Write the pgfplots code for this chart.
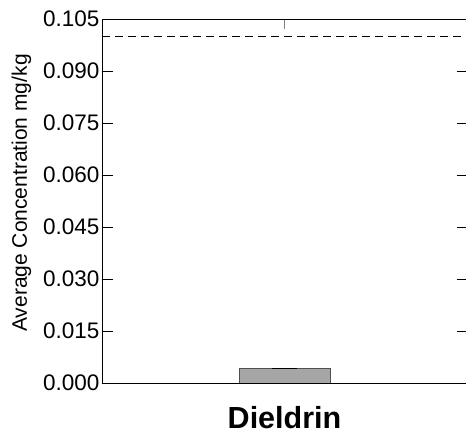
\documentclass[border=0pt]{standalone}
\usepackage{fontspec}
\setmainfont{Liberation Sans}
\usepackage{pgfplots}
\pgfplotsset{compat=1.18}
\begin{document}
\begin{tikzpicture}
\begin{axis}[
  name=ax,
  scale only axis,
  width=365pt, height=364pt,
  xmin=-1, xmax=1,
  ymin=0, ymax=0.105,
  ytick={0,0.015,0.03,0.045,0.06,0.075,0.09,0.105},
  /pgf/number format/fixed,
  /pgf/number format/fixed zerofill,
  /pgf/number format/precision=3,
  /pgf/number format/assume math mode=true,
  yticklabel style={font=\fontsize{22.5}{26}\selectfont, xshift=1pt},
  scaled y ticks=false,
  xtick={0},
  xticklabels={\textbf{Dieldrin}},
  xticklabel style={font=\fontsize{30.5}{34}\selectfont, yshift=-20pt},
  tick align=inside,
  major tick length=10.5pt,
  x tick style={gray, line width=1pt},
  y tick style={black, line width=0.9pt},
  axis line style={line width=0.9pt},
  ylabel={Average Concentration mg/kg},
  ylabel style={font=\fontsize{21}{24}\selectfont, at={(ticklabel cs:0.522)}, yshift=5pt},
]
\addplot[ybar, bar width=91pt, fill={rgb,255:red,166;green,166;blue,166}, draw={rgb,255:red,80;green,80;blue,80}, line width=0.8pt,
  error bars/.cd, y dir=both, y explicit,
  error bar style={black, line width=1.2pt},
  error mark options={rotate=90, black, line width=1.6pt, mark size=12pt}]
  coordinates {(0,0.0042) +- (0,0.00002)};
\addplot[black, dashed, line width=1.2pt, dash pattern=on 8.3pt off 4.7pt] coordinates {(-1,0.1) (1,0.1)};
\end{axis}
\pgfresetboundingbox
\path (ax.south west) ++(-102pt,-58pt) coordinate (bl);
\path (ax.south west) ++(364pt,383pt) coordinate (tr);
\path[use as bounding box] (bl) rectangle (tr);
\end{tikzpicture}
\end{document}
